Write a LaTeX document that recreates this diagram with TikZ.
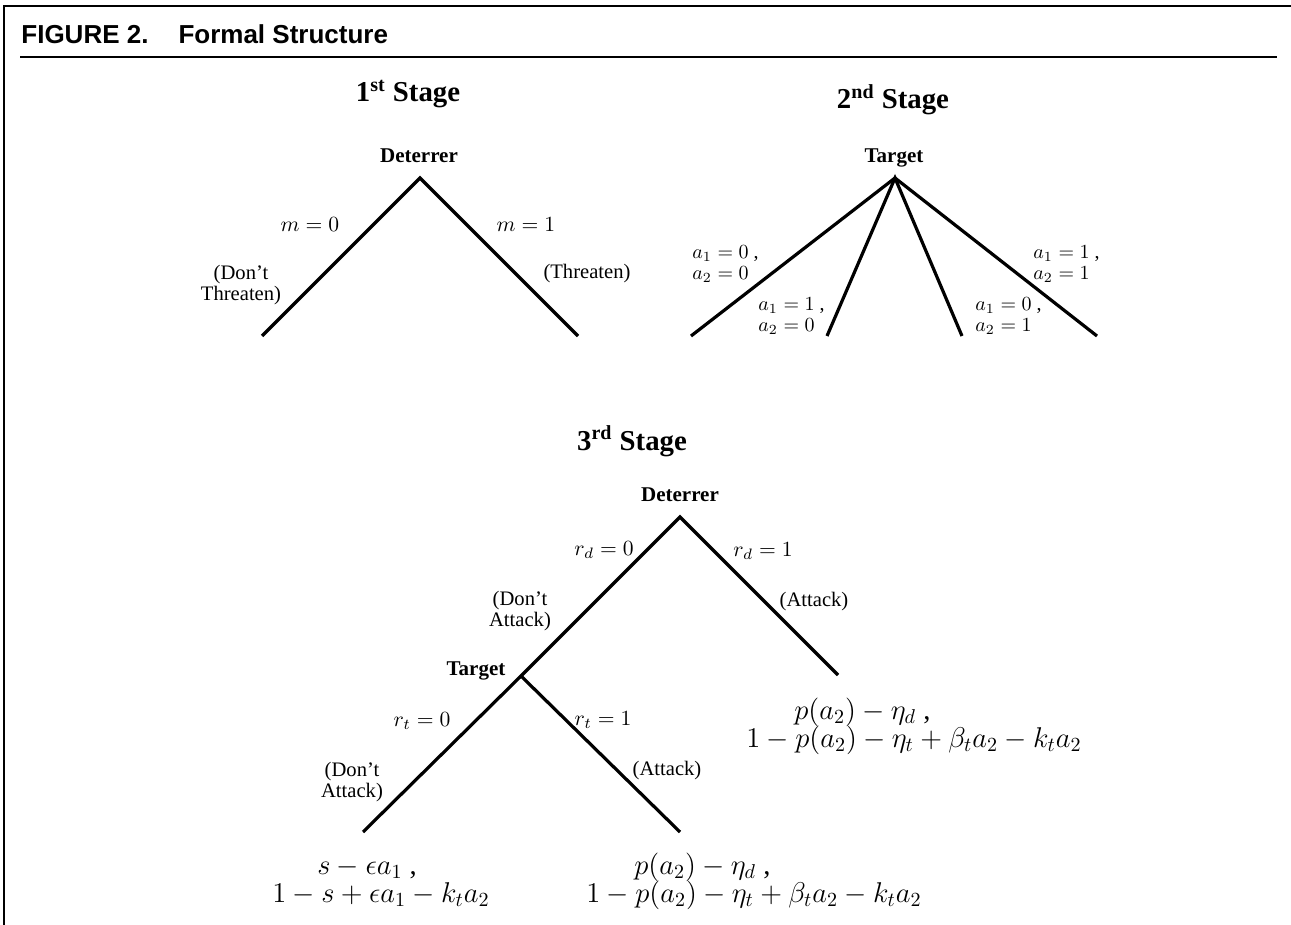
\RequirePackage{fix-cm}
\documentclass[tikz,border=0pt]{standalone}
\usepackage[no-math]{fontspec}
\setmainfont{Liberation Serif}
\newfontfamily\hdrfont{Liberation Sans}
\newcommand{\paytwo}[4]{\vtop{\baselineskip=#1\lineskiplimit=-20pt\hbox{\hspace*{#2}#3}\hbox{#4}}}
\tikzset{
  branch/.style={line width=1.6pt, line join=miter},
  frameline/.style={line width=0.9pt},
  stagetitle/.style={font=\fontsize{14.4}{17}\selectfont\bfseries, anchor=base, inner sep=0pt},
  player/.style={font=\fontsize{10.5}{12}\selectfont\bfseries, anchor=base, inner sep=0pt},
  actlabel/.style={font=\fontsize{10.3}{10.3}\selectfont, align=center, inner sep=0pt},
  mlabel/.style={font=\fontsize{10.8}{12}\selectfont, inner sep=0pt},
  alabel/.style={font=\fontsize{10}{10.3}\selectfont, align=left, anchor=west, inner sep=0pt},
  payoff/.style={font=\fontsize{14.3}{14}\selectfont, anchor=base west, inner sep=0pt}
}
\begin{document}
\begin{tikzpicture}[x=0.5pt,y=-0.5pt]
\useasboundingbox (0,0) rectangle (1291,925);
% frame and header
\coordinate (fb) at (4,925);
\coordinate (fc) at (4,6);
\coordinate (fr) at (1291,6);
\draw[frameline] (fb) -- (fc) -- (fr);
\node[anchor=base west, inner sep=0pt, font=\hdrfont\bfseries\fontsize{13}{15}\selectfont] (hdr) at (21,44) {FIGURE 2.\hspace*{15pt}Formal Structure};
\coordinate (ul) at (20,57);
\coordinate (ur) at (1277,57);
\draw[line width=1pt] (ul) -- (ur);

% ---------- 1st stage ----------
\node[stagetitle] (t1) at (408,102) {1\textsuperscript{st} Stage};
\node[player] (p1) at (419,163) {Deterrer};
\coordinate (d1) at (420,178);
\coordinate (d1l) at (262,336);
\coordinate (d1r) at (578,336);
\draw[branch] (d1l) -- (d1) -- (d1r);
\node[mlabel] (m0) at (310,225) {$m=0$};
\node[mlabel] (m1) at (526,225) {$m=1$};
\node[actlabel] (dt) at (241,285) {(Don’t\\Threaten)};
\node[actlabel] (th) at (587,274) {(Threaten)};

% ---------- 2nd stage ----------
\node[stagetitle] (t2) at (893,109) {2\textsuperscript{nd} Stage};
\node[player] (p2) at (894,163) {Target};
\coordinate (g) at (895,178);
\coordinate (g1) at (691,336);
\coordinate (g2) at (827,336);
\coordinate (g3) at (962,336);
\coordinate (g4) at (1097,336);
\draw[branch] (g1) -- (g) -- (g4);
\draw[branch] (g2) -- (g) -- (g3);
\node[alabel] (a00) at (692,264) {$a_1=0$ ,\\$a_2=0$};
\node[alabel] (a10) at (758,316) {$a_1=1$ ,\\$a_2=0$};
\node[alabel] (a01) at (975,316) {$a_1=0$ ,\\$a_2=1$};
\node[alabel] (a11) at (1033,264) {$a_1=1$ ,\\$a_2=1$};

% ---------- 3rd stage ----------
\node[stagetitle] (t3) at (632,450) {3\textsuperscript{rd} Stage};
\node[player] (p3) at (680,501) {Deterrer};
\coordinate (e) at (680,517);
\coordinate (el) at (521,676);
\coordinate (er) at (838,675);
\coordinate (bl) at (363,832);
\coordinate (br) at (680,832);
\draw[branch] (bl) -- (el) -- (e) -- (er);
\draw[branch] (el) -- (br);
\node[mlabel] (rd0) at (604,550) {$r_d=0$};
\node[mlabel] (rd1) at (763,551) {$r_d=1$};
\node[actlabel] (da1) at (520,611) {(Don’t\\Attack)};
\node[actlabel] (at1) at (814,602) {(Attack)};
\node[player] (p4) at (476,675) {Target};
\node[mlabel] (rt0) at (422,721) {$r_t=0$};
\node[mlabel] (rt1) at (603,720) {$r_t=1$};
\node[actlabel] (da2) at (352,782) {(Don’t\\Attack)};
\node[actlabel] (at2) at (667,771) {(Attack)};

% payoffs
\node[payoff] (pay1) at (746,719) {\paytwo{14pt}{24pt}{$p(a_2)-\eta_d$ ,}{$1-p(a_2)-\eta_t+\beta_t a_2-k_t a_2$}};
\node[payoff] (pay2) at (272,874) {\paytwo{14pt}{22.5pt}{$s-\epsilon a_1$ ,}{$1-s+\epsilon a_1-k_t a_2$}};
\node[payoff] (pay3) at (586,874) {\paytwo{14pt}{24pt}{$p(a_2)-\eta_d$ ,}{$1-p(a_2)-\eta_t+\beta_t a_2-k_t a_2$}};
\end{tikzpicture}
\end{document}
